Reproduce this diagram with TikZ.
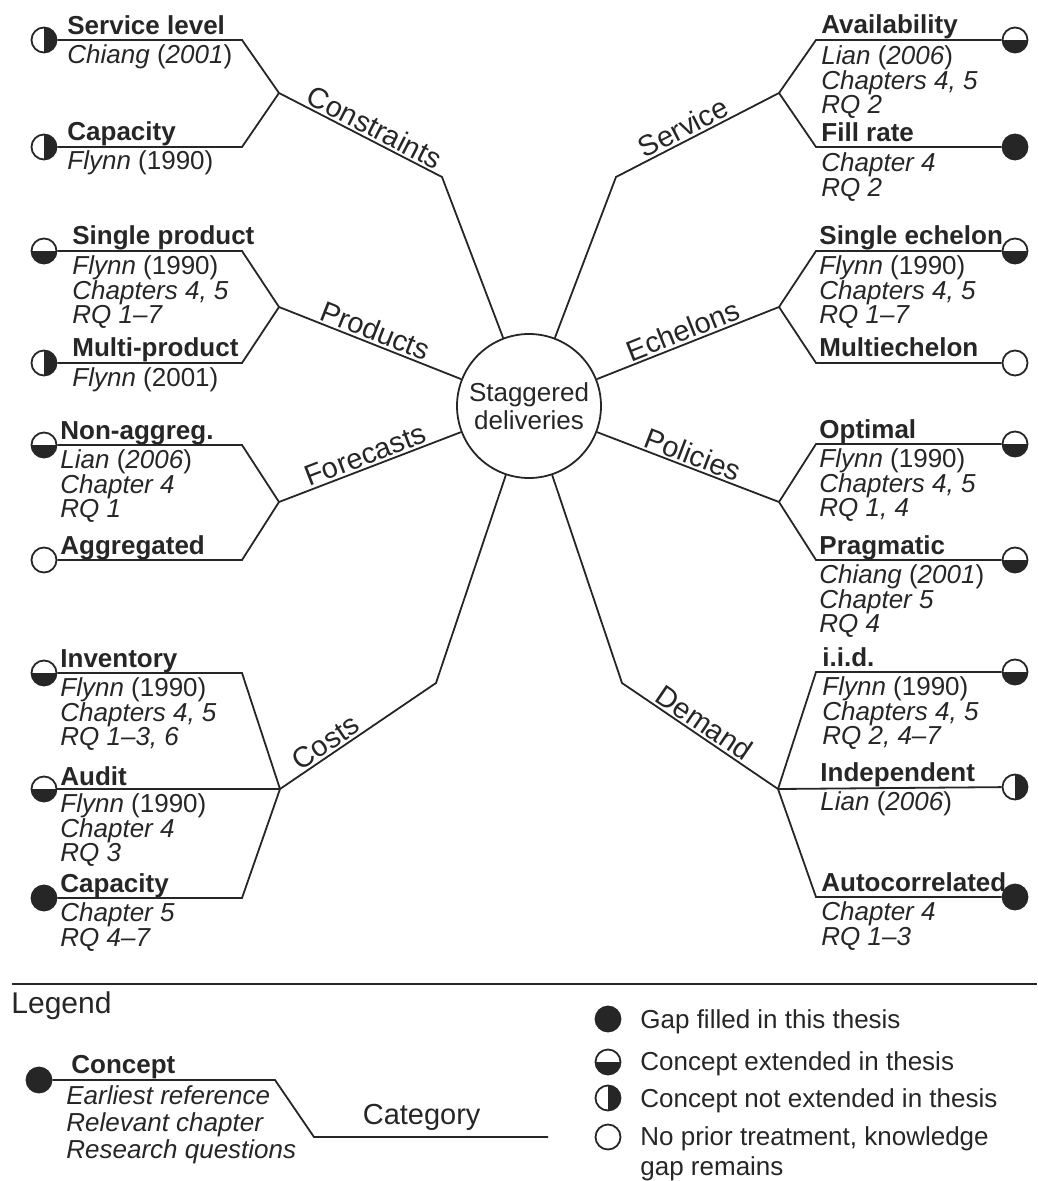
\documentclass[tikz,border=0pt]{standalone}
\usepackage{fontspec}
\setmainfont{Liberation Sans}
\usepackage{tikz}
\usetikzlibrary{calc}
\definecolor{ink}{HTML}{262626}
\tikzset{
  hub/.style={draw=ink, line width=0.9pt, circle, minimum size=72pt, inner sep=0pt, align=center, font=\fontsize{13}{14}\selectfont},
  branch/.style={draw=ink, line width=0.9pt},
  cat/.style={font=\fontsize{14.5}{15}\selectfont, sloped, above, inner sep=1pt},
  cname/.style={font=\fontsize{13}{12.5}\selectfont\bfseries, anchor=base west, inner sep=0pt},
  cref/.style={font=\fontsize{13}{12.4}\selectfont\itshape, align=left, anchor=north west, inner sep=0pt},
  ltxt/.style={font=\fontsize{13}{15}\selectfont, align=left, anchor=base west, inner sep=0pt},
  dotnone/.style={circle, draw=ink, line width=0.9pt, fill=white, minimum size=12.5pt, inner sep=0pt},
  dotfull/.style={dotnone, fill=ink},
  dothalf/.style={dotnone, path picture={\fill[ink] (path picture bounding box.west) rectangle (path picture bounding box.south east);}},
  dotside/.style={dotnone, path picture={\fill[ink] (path picture bounding box.north) rectangle (path picture bounding box.south east);}}
}
\begin{document}
\begin{tikzpicture}[x=0.5pt,y=-0.5pt,text=ink]
  \useasboundingbox (0,0) rectangle (1037,1181);
  \node[hub] (hub) at (529,406) {Staggered\\deliveries};
  % forks and bends
  \coordinate (consF) at (279,93);  \coordinate (consB) at (442,177);
  \coordinate (servF) at (779,93);  \coordinate (servB) at (616,177);
  \coordinate (prodF) at (279,307); \coordinate (echF) at (779,307);
  \coordinate (foreF) at (279,502); \coordinate (polF) at (779,502);
  \coordinate (costF) at (280,789); \coordinate (costB) at (436,683);
  \coordinate (demF) at (778,789);  \coordinate (demB) at (622,683);
  \coordinate (elbL) at (242,0);    \coordinate (elbR) at (816,0);
  % categories
  \draw[branch] (hub) -- (consB) -- node[cat, pos=0.45] {Constraints} (consF);
  \draw[branch] (hub) -- (servB) -- node[cat, pos=0.45] {Service} (servF);
  \draw[branch] (prodF) -- node[cat] {Products} (hub);
  \draw[branch] (hub) -- node[cat] {Echelons} (echF);
  \draw[branch] (foreF) -- node[cat] {Forecasts} (hub);
  \draw[branch] (hub) -- node[cat] {Policies} (polF);
  \draw[branch] (hub) -- (costB) -- node[cat, pos=0.66] {Costs} (costF);
  \draw[branch] (hub) -- (demB) -- node[cat, pos=0.48] {Demand} (demF);

  % Constraints
  \node[dotside] (slvm) at (44,40) {};
  \draw[branch] (slvm) -- (slvm -| elbL) -- (consF);
  \node[cname] (slv) at (67,35) {Service level};
  \node[cref] (slvr) at (67,44) {Chiang \textup{(}2001\textup{)}};
  \node[dotside] (capm) at (44,147) {};
  \draw[branch] (capm) -- (capm -| elbL) -- (consF);
  \node[cname] (cap) at (67,141) {Capacity};
  \node[cref] (capr) at (67,150) {Flynn \textup{(1990)}};

  % Service
  \node[dothalf] (avlm) at (1015,40) {};
  \draw[branch] (servF) -- (avlm -| elbR) -- (avlm);
  \node[cname] (avl) at (821,34) {Availability};
  \node[cref] (avlr) at (821,45) {Lian \textup{(}2006\textup{)}\\Chapters 4, 5\\RQ 2};
  \node[dotfull] (film) at (1015,147) {};
  \draw[branch] (servF) -- (film -| elbR) -- (film);
  \node[cname] (fil) at (821,142) {Fill rate};
  \node[cref] (filr) at (821,152) {Chapter 4\\RQ 2};

  % Products
  \node[dothalf] (sprm) at (44,251) {};
  \draw[branch] (sprm) -- (sprm -| elbL) -- (prodF);
  \node[cname] (spr) at (72,245) {Single product};
  \node[cref] (sprr) at (72,255) {Flynn \textup{(1990)}\\Chapters 4, 5\\RQ 1--7};
  \node[dotside] (mprm) at (44,363) {};
  \draw[branch] (mprm) -- (mprm -| elbL) -- (prodF);
  \node[cname] (mpr) at (72,357) {Multi-product};
  \node[cref] (mprr) at (72,367) {Flynn \textup{(2001)}};

  % Echelons
  \node[dothalf] (sehm) at (1015,251) {};
  \draw[branch] (echF) -- (sehm -| elbR) -- (sehm);
  \node[cname] (seh) at (819,245) {Single echelon};
  \node[cref] (sehr) at (819,255) {Flynn \textup{(1990)}\\Chapters 4, 5\\RQ 1--7};
  \node[dotnone] (mehm) at (1015,363) {};
  \draw[branch] (echF) -- (mehm -| elbR) -- (mehm);
  \node[cname] (meh) at (819,357) {Multiechelon};

  % Forecasts
  \node[dothalf] (nagm) at (44,445) {};
  \draw[branch] (nagm) -- (nagm -| elbL) -- (foreF);
  \node[cname] (nag) at (60,439) {Non-aggreg.};
  \node[cref] (nagr) at (60,449) {Lian \textup{(}2006\textup{)}\\Chapter 4\\RQ 1};
  \node[dotnone] (aggm) at (44,560) {};
  \draw[branch] (aggm) -- (aggm -| elbL) -- (foreF);
  \node[cname] (agg) at (60,554) {Aggregated};

  % Policies
  \node[dothalf] (optm) at (1015,444) {};
  \draw[branch] (polF) -- (optm -| elbR) -- (optm);
  \node[cname] (opt) at (819,438) {Optimal};
  \node[cref] (optr) at (819,448) {Flynn \textup{(1990)}\\Chapters 4, 5\\RQ 1, 4};
  \node[dothalf] (prgm) at (1015,560) {};
  \draw[branch] (polF) -- (prgm -| elbR) -- (prgm);
  \node[cname] (prg) at (819,554) {Pragmatic};
  \node[cref] (prgr) at (819,564) {Chiang \textup{(}2001\textup{)}\\Chapter 5\\RQ 4};

  % Costs
  \node[dothalf] (invm) at (44,673) {};
  \draw[branch] (invm) -- (invm -| elbL) -- (costF);
  \node[cname] (inv) at (60,667) {Inventory};
  \node[cref] (invr) at (60,677) {Flynn \textup{(1990)}\\Chapters 4, 5\\RQ 1--3, 6};
  \node[dothalf] (audm) at (44,789) {};
  \draw[branch] (audm) -- (costF);
  \node[cname] (aud) at (60,785) {Audit};
  \node[cref] (audr) at (60,793) {Flynn \textup{(1990)}\\Chapter 4\\RQ 3};
  \node[dotfull] (ccpm) at (44,898) {};
  \draw[branch] (ccpm) -- (ccpm -| elbL) -- (costF);
  \node[cname] (ccp) at (60,892) {Capacity};
  \node[cref] (ccpr) at (60,902) {Chapter 5\\RQ 4--7};

  % Demand
  \node[dothalf] (iidm) at (1015,672) {};
  \draw[branch] (demF) -- (iidm -| elbR) -- (iidm);
  \node[cname] (iid) at (822,666) {i.i.d.};
  \node[cref] (iidr) at (822,676) {Flynn \textup{(1990)}\\Chapters 4, 5\\RQ 2, 4--7};
  \node[dotside] (indm) at (1015,787) {};
  \draw[branch] (demF) -- (indm);
  \node[cname] (ind) at (820,781) {Independent};
  \node[cref] (indr) at (820,791) {Lian \textup{(}2006\textup{)}};
  \node[dotfull] (acrm) at (1015,897) {};
  \draw[branch] (demF) -- (acrm -| elbR) -- (acrm);
  \node[cname] (acr) at (821,891) {Autocorrelated};
  \node[cref] (acrr) at (821,901) {Chapter 4\\RQ 1--3};

  % legend
  \coordinate (ruleL) at (12,984); \coordinate (ruleR) at (1037,984);
  \draw[branch] (ruleL) -- (ruleR);
  \node[anchor=base west, inner sep=0pt, font=\fontsize{15}{15}\selectfont] (lgd) at (11,1013) {Legend};
  \node[dotfull] (lcm) at (39,1080) {};
  \coordinate (lcE) at (275,1080); \coordinate (lcB) at (314,1137); \coordinate (lcF) at (548,1137);
  \draw[branch] (lcm) -- (lcE) -- (lcB) -- node[above, pos=0.46, inner sep=3pt, font=\fontsize{14.5}{15}\selectfont] (lcat) {Category} (lcF);
  \node[cname] (lcn) at (71,1073) {Concept};
  \node[cref, font=\fontsize{13}{13.5}\selectfont\itshape] (lcr) at (66,1085) {Earliest reference\\Relevant chapter\\Research questions};

  \node[dotfull] (k1) at (608,1019) {};
  \node[ltxt] (k1t) at (640,1028) {Gap filled in this thesis};
  \node[dothalf] (k2) at (608,1062) {};
  \node[ltxt] (k2t) at (640,1070) {Concept extended in thesis};
  \node[dotside] (k3) at (608,1098) {};
  \node[ltxt] (k3t) at (640,1107) {Concept not extended in thesis};
  \node[dotnone] (k4) at (608,1137) {};
  \node[ltxt, anchor=north west] (k4t) at (640,1126) {No prior treatment, knowledge\\gap remains};
\end{tikzpicture}
\end{document}
